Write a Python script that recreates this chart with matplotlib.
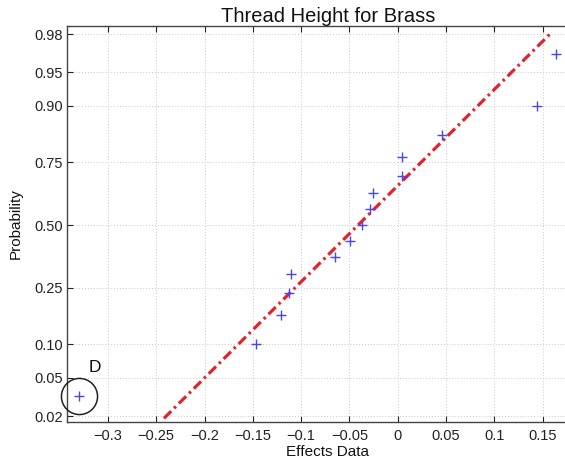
import matplotlib
matplotlib.use("Agg")
import matplotlib.pyplot as plt
from statistics import NormalDist

plt.rcParams['font.family'] = ['Liberation Sans', 'DejaVu Sans']

# ---- data ----
effects = [-0.330, -0.147, -0.121, -0.1125, -0.110, -0.065, -0.049, -0.037,
           -0.029, -0.026, 0.0040, 0.0048, 0.046, 0.144, 0.164]
probs = [0.033, 0.100, 0.167, 0.233, 0.300, 0.367, 0.433, 0.500,
         0.567, 0.633, 0.700, 0.767, 0.833, 0.900, 0.967]
fit_mu = -0.041
fit_sigma = 0.0967
line_probs = [0.0188, 0.98]
ytick_probs = [0.02, 0.05, 0.10, 0.25, 0.50, 0.75, 0.90, 0.95, 0.98]
ytick_labels = ['0.02', '0.05', '0.10', '0.25', '0.50', '0.75', '0.90', '0.95', '0.98']
xticks = [-0.3, -0.25, -0.2, -0.15, -0.1, -0.05, 0, 0.05, 0.1, 0.15]
xtick_labels = ['\u22120.3', '\u22120.25', '\u22120.2', '\u22120.15', '\u22120.1',
                '\u22120.05', '0', '0.05', '0.1', '0.15']
outlier_label = 'D'

nd = NormalDist()
z = lambda p: nd.inv_cdf(p)

W, H = 565, 459
fig = plt.figure(figsize=(W / 100, H / 100), dpi=100)
left, right, top, bottom = 66.7, 589, 26, 421.7
ax = fig.add_axes([left / W, 1 - bottom / H, (right - left) / W, (bottom - top) / H])

# grid
ax.set_axisbelow(True)
ax.grid(True, color=(0.78, 0.78, 0.78), linestyle=(0, (1, 2)), linewidth=0.7)

# fitted reference line
lz = [z(p) for p in line_probs]
lx = [fit_mu + fit_sigma * v for v in lz]
ax.plot(lx, lz, color='#e3232c', linewidth=2.3, linestyle=(0, (3.2, 1.3, 0.8, 1.3)),
        solid_capstyle='butt', dash_capstyle='butt', zorder=3)

# data points
ax.plot(effects, [z(p) for p in probs], linestyle='none', marker='+',
        markersize=6.5, markeredgewidth=1.0, color='#4646f2', zorder=4)

# circled outlier
ox, oy = effects[0], z(probs[0])
ax.plot([ox], [oy], linestyle='none', marker='o', markersize=26,
        markerfacecolor='none', markeredgecolor='#222222', markeredgewidth=1.1,
        zorder=5, clip_on=False)
ax.annotate(outlier_label, xy=(ox, oy), xytext=(11.2, 20.7), textcoords='offset points',
            ha='center', va='center', fontsize=12.5, color='#111111')

ax.set_xlim(-0.3427, 0.198)
ax.set_ylim(-2.115, 2.14)
ax.set_xticks(xticks)
ax.set_xticklabels(xtick_labels)
ax.set_yticks([z(p) for p in ytick_probs])
ax.set_yticklabels(ytick_labels)

ax.tick_params(direction='in', length=4, width=0.8, top=True, right=True,
               labelsize=10.5, colors='#222222', pad=5)
ax.tick_params(axis='y', pad=3)
for s in ax.spines.values():
    s.set_color('#444444')
    s.set_linewidth(1.0)

ax.set_title('Thread Height for Brass', fontsize=14.5, color='#111111', pad=3)
ax.set_xlabel('Effects Data', fontsize=11, color='#111111', labelpad=2)
ax.set_ylabel('Probability', fontsize=11, color='#111111', labelpad=8)

fig.savefig('out.png', dpi=100)
